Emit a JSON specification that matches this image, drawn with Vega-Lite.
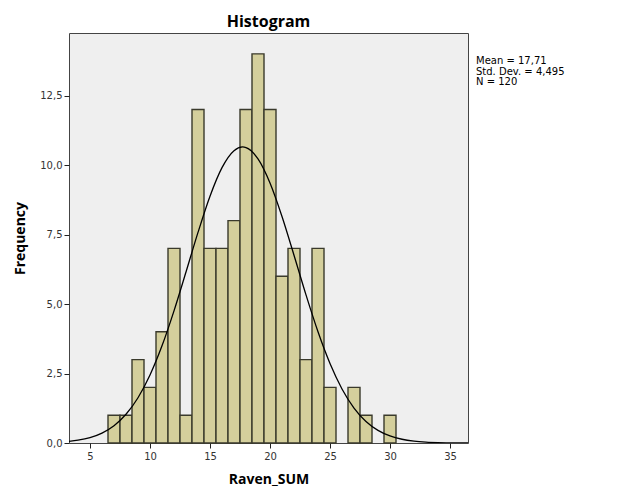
{
  "$schema": "https://vega.github.io/schema/vega-lite/v6.json",
  "width": 399,
  "height": 410,
  "autosize": {"type": "none"},
  "padding": {"left": 69, "top": 33, "right": 158, "bottom": 58},
  "background": "white",
  "view": {"fill": "#efefef", "stroke": "#444444", "strokeWidth": 1},
  "title": {"text": "Histogram", "fontSize": 16, "fontWeight": "bold", "font": "Open Sans", "color": "#000000", "offset": 3, "anchor": "middle"},
  "config": {
    "axis": {"labelFont": "DejaVu Sans", "labelFontSize": 10, "labelColor": "#333333", "tickColor": "#222222", "domain": false, "grid": false, "titleFont": "Open Sans", "titleFontSize": 14, "titleFontWeight": "bold", "titleColor": "#000000"}
  },
  "datasets": {
    "bins": [
      {"bin_start": 6.5, "bin_end": 7.5, "count": 1},
      {"bin_start": 7.5, "bin_end": 8.5, "count": 1},
      {"bin_start": 8.5, "bin_end": 9.5, "count": 3},
      {"bin_start": 9.5, "bin_end": 10.5, "count": 2},
      {"bin_start": 10.5, "bin_end": 11.5, "count": 4},
      {"bin_start": 11.5, "bin_end": 12.5, "count": 7},
      {"bin_start": 12.5, "bin_end": 13.5, "count": 1},
      {"bin_start": 13.5, "bin_end": 14.5, "count": 12},
      {"bin_start": 14.5, "bin_end": 15.5, "count": 7},
      {"bin_start": 15.5, "bin_end": 16.5, "count": 7},
      {"bin_start": 16.5, "bin_end": 17.5, "count": 8},
      {"bin_start": 17.5, "bin_end": 18.5, "count": 12},
      {"bin_start": 18.5, "bin_end": 19.5, "count": 14},
      {"bin_start": 19.5, "bin_end": 20.5, "count": 12},
      {"bin_start": 20.5, "bin_end": 21.5, "count": 6},
      {"bin_start": 21.5, "bin_end": 22.5, "count": 7},
      {"bin_start": 22.5, "bin_end": 23.5, "count": 3},
      {"bin_start": 23.5, "bin_end": 24.5, "count": 7},
      {"bin_start": 24.5, "bin_end": 25.5, "count": 2},
      {"bin_start": 26.5, "bin_end": 27.5, "count": 2},
      {"bin_start": 27.5, "bin_end": 28.5, "count": 1},
      {"bin_start": 29.5, "bin_end": 30.5, "count": 1}
    ],
    "curve": [
      {"x": 3.25, "y": 0.060}, {"x": 4, "y": 0.102}, {"x": 5, "y": 0.195}, {"x": 6, "y": 0.358},
      {"x": 7, "y": 0.623}, {"x": 8, "y": 1.033}, {"x": 9, "y": 1.629}, {"x": 10, "y": 2.446},
      {"x": 11, "y": 3.495}, {"x": 12, "y": 4.753}, {"x": 13, "y": 6.151}, {"x": 14, "y": 7.576},
      {"x": 15, "y": 8.880}, {"x": 16, "y": 9.907}, {"x": 17, "y": 10.518}, {"x": 17.71, "y": 10.65},
      {"x": 18, "y": 10.628}, {"x": 19, "y": 10.221}, {"x": 20, "y": 9.354}, {"x": 21, "y": 8.148},
      {"x": 22, "y": 6.754}, {"x": 23, "y": 5.328}, {"x": 24, "y": 4.001}, {"x": 25, "y": 2.860},
      {"x": 26, "y": 1.944}, {"x": 27, "y": 1.258}, {"x": 28, "y": 0.775}, {"x": 29, "y": 0.4545},
      {"x": 30, "y": 0.2536}, {"x": 31, "y": 0.1346}, {"x": 32, "y": 0.068}, {"x": 33, "y": 0.0327},
      {"x": 34, "y": 0.015}, {"x": 35, "y": 0.0065}, {"x": 36, "y": 0.0027}, {"x": 36.5, "y": 0.0017}
    ],
    "stats": [
      {"stat": "Mean = 17,71"},
      {"stat": "Std. Dev. = 4,495"},
      {"stat": "N = 120"}
    ]
  },
  "layer": [
    {
      "data": {"name": "bins"},
      "mark": {"type": "rect", "fill": "#d4cf9c", "stroke": "#3a3a2c", "strokeWidth": 1.4},
      "encoding": {
        "x": {"field": "bin_start", "type": "quantitative", "scale": {"domain": [3.25, 36.5], "nice": false, "zero": false},
              "axis": {"title": "Raven_SUM", "values": [5, 10, 15, 20, 25, 30, 35], "format": "d", "tickSize": 5, "labelPadding": 3, "titlePadding": 11}},
        "x2": {"field": "bin_end"},
        "y": {"field": "count", "type": "quantitative", "scale": {"domain": [0, 14.75], "nice": false},
              "axis": {"title": "Frequency", "values": [0, 2.5, 5, 7.5, 10, 12.5], "labelExpr": "replace(format(datum.value, '.1f'), '.', ',')", "tickSize": 5, "labelPadding": 2, "titlePadding": 12}},
        "y2": {"datum": 0}
      }
    },
    {
      "data": {"name": "curve"},
      "mark": {"type": "line", "color": "#000000", "strokeWidth": 1.3, "interpolate": "monotone", "clip": true},
      "encoding": {
        "x": {"field": "x", "type": "quantitative"},
        "y": {"field": "y", "type": "quantitative"}
      }
    },
    {
      "data": {"name": "stats"},
      "mark": {"type": "point", "opacity": 0},
      "encoding": {
        "color": {"field": "stat", "type": "nominal",
                  "scale": {"domain": ["Mean = 17,71", "Std. Dev. = 4,495", "N = 120"], "range": ["#000000", "#000000", "#000000"]},
                  "legend": {"title": null, "orient": "none", "legendX": 397, "legendY": 23, "symbolSize": 0, "symbolOpacity": 0, "symbolStrokeWidth": 0, "labelOffset": 0, "rowPadding": 0.5, "labelFont": "DejaVu Sans", "labelFontSize": 10, "labelColor": "#000000", "padding": 0, "symbolType": "circle"}}
      }
    }
  ]
}
